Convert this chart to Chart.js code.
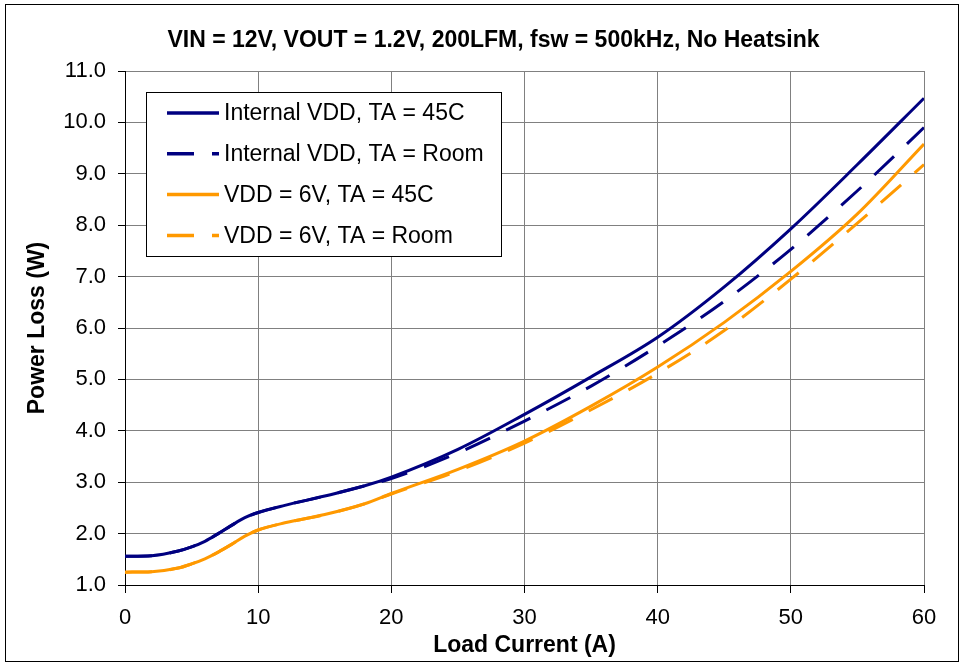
<!DOCTYPE html>
<html><head><meta charset="utf-8">
<script src="https://cdn.jsdelivr.net/npm/chart.js@4.4.0/dist/chart.umd.min.js"></script>
<style>html,body{margin:0;padding:0;background:#fff}#wrap{width:965px;height:664px}</style>
</head><body><div id="wrap"><canvas id="c" width="965" height="664"></canvas></div>
<script>
// ---- data ----
const chartTitle = 'VIN = 12V, VOUT = 1.2V, 200LFM, fsw = 500kHz, No Heatsink';
const xAxisTitle = 'Load Current (A)';
const yAxisTitle = 'Power Loss (W)';
const xTickValues = [0, 10, 20, 30, 40, 50, 60];
const yTickValues = [1, 2, 3, 4, 5, 6, 7, 8, 9, 10, 11];
const loadCurrent = [0, 2, 4, 5, 6, 7, 8, 9, 10, 12, 15, 18, 20, 25, 30, 35, 40, 45, 50, 55, 60];
const internalVdd45C   = [1.56, 1.57, 1.66, 1.74, 1.85, 2.00, 2.16, 2.31, 2.41, 2.55, 2.73, 2.93, 3.10, 3.64, 4.32, 5.05, 5.82, 6.80, 7.93, 9.18, 10.47];
const internalVddRoom  = [1.56, 1.57, 1.66, 1.74, 1.85, 2.00, 2.16, 2.31, 2.41, 2.55, 2.73, 2.93, 3.07, 3.57, 4.19, 4.87, 5.65, 6.52, 7.53, 8.67, 9.90];
const vdd6V45C         = [1.25, 1.26, 1.33, 1.41, 1.51, 1.64, 1.79, 1.95, 2.07, 2.21, 2.37, 2.58, 2.78, 3.25, 3.80, 4.48, 5.24, 6.11, 7.10, 8.22, 9.58];
const vdd6VRoom        = [1.25, 1.26, 1.33, 1.41, 1.51, 1.64, 1.79, 1.95, 2.07, 2.21, 2.37, 2.58, 2.77, 3.22, 3.76, 4.41, 5.12, 5.95, 6.95, 8.04, 9.18];
const seriesLabels = ['Internal VDD, TA = 45C', 'Internal VDD, TA = Room', 'VDD = 6V, TA = 45C', 'VDD = 6V, TA = Room'];
const seriesValues = [internalVdd45C, internalVddRoom, vdd6V45C, vdd6VRoom];

// ---- styles ----
const NAVY = '#000080', ORANGE = '#FF9900';
const seriesColors = [NAVY, NAVY, ORANGE, ORANGE];
const seriesDashes = [[], [27, 18], [], [27, 18]];
const FONT = "'Liberation Sans', Arial, sans-serif";

const datasets = seriesValues.map((vals, i) => ({
  label: seriesLabels[i],
  data: loadCurrent.map((x, j) => ({x: x, y: vals[j]})),
  borderColor: seriesColors[i],
  backgroundColor: seriesColors[i],
  borderWidth: 3,
  borderDash: seriesDashes[i],
  borderCapStyle: 'butt',
  pointRadius: 0,
  pointHoverRadius: 0,
  fill: false,
  cubicInterpolationMode: 'monotone',
  order: 3 - i
}));

const frameAndBg = {
  id: 'frameAndBg',
  beforeDraw(chart) {
    const ctx = chart.ctx;
    ctx.save();
    ctx.fillStyle = '#fff';
    ctx.fillRect(0, 0, chart.width, chart.height);
    ctx.strokeStyle = '#000';
    ctx.lineWidth = 1;
    ctx.strokeRect(5.5, 4.5, 953, 657);
    ctx.restore();
  }
};

const insideLegend = {
  id: 'insideLegend',
  afterDatasetsDraw(chart) {
    const ctx = chart.ctx;
    ctx.save();
    ctx.fillStyle = '#fff';
    ctx.fillRect(146.5, 92.5, 355, 164);
    ctx.strokeStyle = '#000';
    ctx.lineWidth = 1;
    ctx.strokeRect(146.5, 92.5, 355, 164);
    chart.data.datasets.forEach((ds, i) => {
      const cy = 113 + i * 40.8;
      ctx.beginPath();
      ctx.setLineDash(ds.borderDash || []);
      ctx.lineCap = 'butt';
      ctx.strokeStyle = ds.borderColor;
      ctx.lineWidth = 3.5;
      ctx.moveTo(167, cy);
      ctx.lineTo(219, cy);
      ctx.stroke();
      ctx.setLineDash([]);
      ctx.fillStyle = '#000';
      ctx.font = '23px ' + FONT;
      ctx.textBaseline = 'middle';
      ctx.textAlign = 'left';
      ctx.fillText(ds.label, 224, cy + 1);
    });
    ctx.restore();
  }
};

new Chart(document.getElementById('c'), {
  type: 'line',
  data: { datasets: datasets },
  plugins: [frameAndBg, insideLegend],
  options: {
    responsive: false,
    animation: false,
    events: [],
    layout: { padding: { left: 22, right: 0, top: 0, bottom: 0 } },
    plugins: {
      legend: { display: false },
      tooltip: { enabled: false },
      title: {
        display: true,
        text: chartTitle,
        color: '#000',
        font: { family: FONT, size: 23, weight: 'bold', lineHeight: 1.2 },
        padding: { top: 26.7, bottom: 16.7 }
      }
    },
    scales: {
      x: {
        type: 'linear',
        min: 0, max: 60,
        afterBuildTicks(scale) { scale.ticks = xTickValues.map(v => ({value: v})); },
        afterFit(scale) { scale.height = 79; },
        ticks: {
          color: '#000',
          font: { family: FONT, size: 22 },
          padding: 12,
          maxRotation: 0,
          callback: v => String(v)
        },
        grid: { color: '#808080', lineWidth: 1, tickLength: 8, tickColor: '#000', drawTicks: true },
        border: { display: true, color: '#000', width: 1 },
        title: {
          display: true, text: xAxisTitle, color: '#000',
          font: { family: FONT, size: 23, weight: 'bold', lineHeight: 1.2 },
          padding: { top: 0, bottom: 5 }
        }
      },
      y: {
        type: 'linear',
        position: 'left',
        min: 1, max: 11,
        afterBuildTicks(scale) { scale.ticks = yTickValues.map(v => ({value: v})); },
        afterFit(scale) { scale.width = 103; },
        ticks: {
          color: '#000',
          font: { family: FONT, size: 22 },
          padding: 12,
          callback: v => Number(v).toFixed(1)
        },
        grid: { color: '#808080', lineWidth: 1, tickLength: 7, tickColor: '#000', drawTicks: true },
        border: { display: true, color: '#000', width: 1 },
        title: {
          display: true, text: yAxisTitle, color: '#000',
          font: { family: FONT, size: 23, weight: 'bold', lineHeight: 1.2 },
          padding: { top: 2, bottom: 0 }
        }
      },
      yRightSpace: {
        type: 'linear',
        position: 'right',
        display: true,
        min: 1, max: 11,
        afterFit(scale) { scale.width = 41; },
        ticks: { display: false },
        grid: { display: false, drawTicks: false },
        border: { display: false }
      }
    }
  }
});
</script>
</body></html>
